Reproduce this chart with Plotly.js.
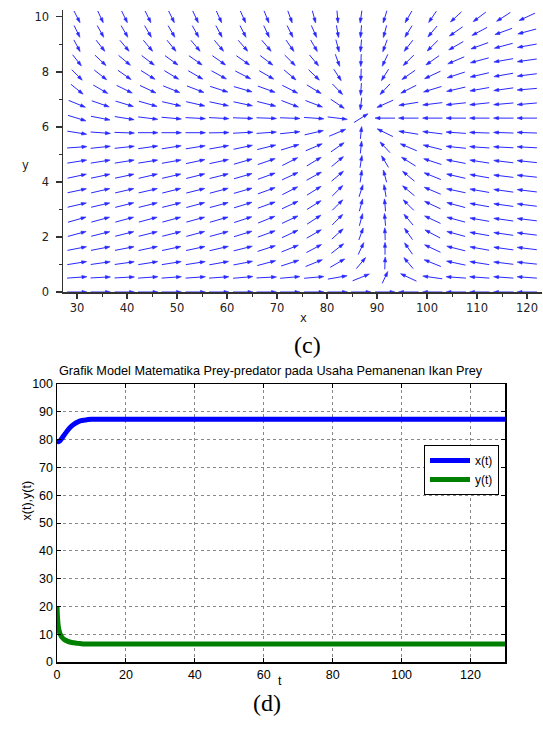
<!DOCTYPE html>
<html><head><meta charset="utf-8">
<script src="https://cdn.plot.ly/plotly-3.0.1.min.js"></script>
<style>html,body{margin:0;padding:0;background:#fff}#chart{width:543px;height:731px}</style>
</head><body><div id="chart"></div>
<script>
// ---------- (c) direction field : grid positions and arrow directions (deg) ----------
const fieldX = [30, 34.7, 39.5, 44.2, 48.9, 53.7, 58.4, 63.2, 67.9, 72.6, 77.4, 82.1, 86.8, 91.6, 96.3, 101.1, 105.8, 110.5, 115.3, 120];
const fieldY = [10, 9.47, 8.95, 8.42, 7.89, 7.37, 6.84, 6.32, 5.79, 5.26, 4.74, 4.21, 3.68, 3.16, 2.63, 2.11, 1.58, 1.05, 0.53, 0];
const fieldAngle = [
  [-63,-65,-64,-64,-64,-65,-66,-66,-68,-70,-75,-85,-98,-107,-120,-124,-137,-143,-147,-155],
  [-64,-61,-60,-60,-60,-61,-62,-63,-65,-64,-66,-80,-95,-105,-122,-130,-145,-152,-160,-165],
  [-62,-52,-50,-50,-51,-50,-50,-49,-50,-55,-60,-75,-95,-110,-128,-135,-150,-160,-165,-170],
  [-52,-43,-40,-37,-36,-35,-35,-35,-37,-45,-50,-70,-92,-115,-135,-145,-157,-165,-170,-172],
  [-45,-38,-35,-32,-31,-30,-29,-27,-30,-40,-44,-57,-92,-122,-145,-155,-162,-167,-170,-173],
  [-39,-30,-26,-25,-22,-21,-18,-16,-20,-27,-31,-46,-94,-133,-153,-163,-167,-170,-172,-175],
  [-22,-19,-17,-16,-13,-13,-12,-12,-14,-21,-21,-34,-97,-156,-171,-173,-174,-174,-175,-175],
  [-17,-11,-9,-7,-5,-3,-3,-2,-2,-2,-4,-7,32,180,180,180,180,180,180,180],
  [-9,-4,-2,0,0,0,1,3,4,6,13,23,84,154,171,173,176,178,178,178],
  [4,6,6,8,9,9,10,12,14,17,23,35,84,133,157,166,174,176,177,177],
  [9,9,9,9,10,12,12,16,19,27,31,40,81,121,148,162,169,171,173,174],
  [12,12,12,13,13,14,14,16,20,25,29,40,82,105,140,158,167,170,173,174],
  [12,13,13,13,14,14,15,16,20,27,32,45,72,100,140,157,168,170,172,173],
  [13,13,14,14,14,15,15,17,20,25,32,45,75,95,135,155,165,170,172,173],
  [16,15,15,15,15,15,16,18,22,25,33,45,75,95,130,155,165,170,172,173],
  [15,14,14,14,14,15,15,17,20,25,30,42,70,92,125,152,165,170,172,173],
  [11,11,11,12,12,12,13,14,18,22,28,38,65,90,125,155,166,170,172,173],
  [9,8,8,9,9,9,10,11,15,18,22,30,50,88,130,158,168,171,173,174],
  [4,3,3,4,4,4,4,5,3,5,5,10,22,65,155,172,176,176,176,176],
  [0,0,0,0,0,0,0,0,0,0,0,0,0,0,180,180,180,180,180,180]
];
const fieldXTicks = [30, 40, 50, 60, 70, 80, 90, 100, 110, 120];
const fieldYTicks = [0, 2, 4, 6, 8, 10];

// ---------- (d) time series ----------
const tX   = [0, 0.4, 0.9, 1.5, 2, 3, 4, 5, 6, 7, 8, 9, 10, 12, 15, 130];
const xVal = [80, 79.2, 79.6, 80.6, 81.5, 83.2, 84.6, 85.6, 86.3, 86.8, 87.0, 87.2, 87.3, 87.3, 87.3, 87.3];
const tY   = [0, 0.15, 0.35, 0.6, 1, 1.5, 2, 3, 4, 5, 6, 7, 8, 10, 130];
const yVal = [20, 16, 13, 11.3, 9.8, 8.8, 8.2, 7.5, 7.1, 6.9, 6.7, 6.6, 6.5, 6.45, 6.45];
const seriesNames = ['x(t)', 'y(t)'];
const tTicks = [0, 20, 40, 60, 80, 100, 120];
const vTicks = [0, 10, 20, 30, 40, 50, 60, 70, 80, 90, 100];

// ---------- layout geometry ----------
const W = 543, H = 731;
const topDomX = [63 / W, 542 / W], topDomY = [1 - 292 / H, 1 - 10 / H];
const topRangeX = [27.2, 123], topRangeY = [0, 10.25];
const botDomX = [57 / W, 505 / W], botDomY = [1 - 662 / H, 1 - 384 / H];

const pxX = (topDomX[1] - topDomX[0]) * W / (topRangeX[1] - topRangeX[0]);
const pxY = (topDomY[1] - topDomY[0]) * H / (topRangeY[1] - topRangeY[0]);
const cellX = (fieldX[1] - fieldX[0]) * pxX, cellY = (fieldY[0] - fieldY[1]) * pxY;
const K = 0.85, HEAD = 5, HALF = 1.6;

const sx = [], sy = [], hx = [], hy = [];
fieldY.forEach((yv, r) => {
  fieldX.forEach((xv, c) => {
    const th = fieldAngle[r][c] * Math.PI / 180;
    const cs = Math.cos(th), sn = Math.sin(th);
    const L = K / Math.sqrt(cs * cs / (cellX * cellX) + sn * sn / (cellY * cellY));
    const dx = L / 2 * cs / pxX, dy = L / 2 * sn / pxY;
    const tipX = xv + dx, tipY = yv + dy;
    sx.push(xv - dx, tipX - 0.5 * HEAD * cs / pxX, null);
    sy.push(yv - dy, tipY - 0.5 * HEAD * sn / pxY, null);
    const bx = tipX - HEAD * cs / pxX, by = tipY - HEAD * sn / pxY;
    hx.push(tipX, bx - HALF * sn / pxX, bx + HALF * sn / pxX, tipX, null);
    hy.push(tipY, by + HALF * cs / pxY, by - HALF * cs / pxY, tipY, null);
  });
});

const arrowColor = 'rgb(40,40,255)';
const traces = [
  {x: sx, y: sy, xaxis: 'x', yaxis: 'y', mode: 'lines', line: {color: arrowColor, width: 1}, showlegend: false, cliponaxis: false, hoverinfo: 'skip'},
  {x: hx, y: hy, xaxis: 'x', yaxis: 'y', mode: 'lines', fill: 'toself', fillcolor: arrowColor, line: {color: arrowColor, width: 0.6}, showlegend: false, cliponaxis: false, hoverinfo: 'skip'},
  {x: tX, y: xVal, xaxis: 'x2', yaxis: 'y2', mode: 'lines', name: seriesNames[0], line: {color: '#0000ff', width: 5, shape: 'spline', smoothing: 0.6}},
  {x: tY, y: yVal, xaxis: 'x2', yaxis: 'y2', mode: 'lines', name: seriesNames[1], line: {color: '#008000', width: 5, shape: 'spline', smoothing: 0.6}}
];

const mapleFont = {family: 'DejaVu Sans', size: 11.5, color: '#222'};
const matFont = {family: 'Liberation Sans, Arial', size: 12.5, color: '#000'};

const layout = {
  width: W, height: H, margin: {l: 0, r: 0, t: 0, b: 0},
  paper_bgcolor: '#fff', plot_bgcolor: 'rgba(0,0,0,0)',
  xaxis: {domain: topDomX, range: topRangeX, anchor: 'y', showgrid: false, zeroline: false,
    showline: true, linecolor: '#333', linewidth: 1.5, ticks: 'outside', ticklen: 5, tickwidth: 1.2, tickcolor: '#333',
    tickvals: fieldXTicks, tickfont: mapleFont,
    minor: {dtick: 5, ticks: 'outside', ticklen: 3, tickwidth: 1, tickcolor: '#333', showgrid: false}},
  yaxis: {domain: topDomY, range: topRangeY, anchor: 'x', showgrid: false, zeroline: false,
    showline: true, linecolor: '#333', linewidth: 1.5, ticks: 'outside', ticklen: 6, tickwidth: 1.2, tickcolor: '#333',
    tickvals: fieldYTicks, tickfont: mapleFont, ticklabelstandoff: 4,
    minor: {dtick: 1, ticks: 'outside', ticklen: 3, tickwidth: 1, tickcolor: '#333', showgrid: false}},
  xaxis2: {domain: botDomX, range: [0, 130], anchor: 'y2', zeroline: false,
    showline: true, linecolor: '#000', linewidth: 1.5, mirror: 'ticks', ticks: 'inside', ticklen: 4, tickcolor: '#000',
    tickvals: tTicks, tickfont: matFont, showgrid: true, gridcolor: '#888', griddash: 'dot', gridwidth: 1},
  yaxis2: {domain: botDomY, range: [0, 100], anchor: 'x2', zeroline: false,
    showline: true, linecolor: '#000', linewidth: 1.5, mirror: 'ticks', ticks: 'inside', ticklen: 4, tickcolor: '#000',
    tickvals: vTicks, tickfont: matFont, showgrid: true, gridcolor: '#888', griddash: 'dot', gridwidth: 1},
  showlegend: true,
  legend: {x: 499 / W, xanchor: 'right', y: 1 - 445 / H, yanchor: 'top', bgcolor: '#fff',
    bordercolor: '#000', borderwidth: 1, font: {family: 'Liberation Sans, Arial', size: 12, color: '#000'},
    tracegroupgap: 0, itemwidth: 40},
  annotations: [
    {text: 'x', xref: 'paper', yref: 'paper', x: 303 / W, y: 1 - 318 / H, showarrow: false, font: {family: 'DejaVu Sans', size: 11.5, color: '#222'}},
    {text: 'y', xref: 'paper', yref: 'paper', x: 20 / W, y: 1 - 156 / H, showarrow: false, font: {family: 'DejaVu Sans', size: 11.5, color: '#222'}},
    {text: '(c)', xref: 'paper', yref: 'paper', x: 307 / W, y: 1 - 345 / H, showarrow: false, font: {family: 'Liberation Serif', size: 24, color: '#000'}},
    {text: 'Grafik Model Matematika Prey-predator pada Usaha Pemanenan Ikan Prey', xref: 'paper', yref: 'paper', x: 271 / W, y: 1 - 371 / H, showarrow: false, font: {family: 'Liberation Sans, Arial', size: 12.7, color: '#000'}},
    {text: 't', xref: 'paper', yref: 'paper', x: 280 / W, y: 1 - 690 / H, showarrow: false, font: matFont},
    {text: 'x(t),y(t)', xref: 'paper', yref: 'paper', x: 17.5 / W, y: 1 - 523 / H, showarrow: false, textangle: -90, font: matFont},
    {text: '(d)', xref: 'paper', yref: 'paper', x: 266.5 / W, y: 1 - 718 / H, showarrow: false, font: {family: 'Liberation Serif', size: 24, color: '#000'}}
  ]
};

Plotly.newPlot('chart', traces, layout, {staticPlot: true, displayModeBar: false});
</script>
</body></html>
